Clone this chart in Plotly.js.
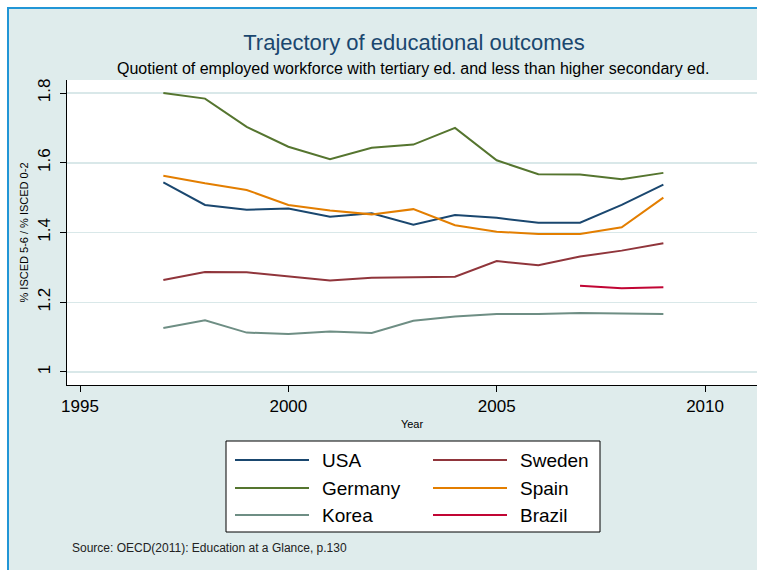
<!DOCTYPE html>
<html><head><meta charset="utf-8">
<script src="https://cdn.plot.ly/plotly-3.0.1.min.js"></script>
<style>
html,body{margin:0;padding:0;background:#fff;overflow:hidden;}
#frame{position:absolute;left:7px;top:7px;width:770px;height:600px;background:#dfecec;border-left:2px solid #2196d6;border-top:2px solid #2196d6;}
#chart{position:absolute;left:0;top:0;width:757px;height:570px;}
</style></head><body>
<div id="frame"></div><div id="chart"></div>
<script>
// ---- data ----
const years = [1997,1998,1999,2000,2001,2002,2003,2004,2005,2006,2007,2008,2009];
const brazilYears = [2007,2008,2009];
const usa     = [1.544,1.479,1.465,1.469,1.445,1.455,1.422,1.450,1.442,1.428,1.428,1.479,1.537];
const germany = [1.800,1.784,1.703,1.646,1.610,1.643,1.652,1.700,1.607,1.567,1.566,1.553,1.571];
const spain   = [1.563,1.541,1.522,1.479,1.463,1.452,1.467,1.421,1.402,1.396,1.396,1.415,1.500];
const sweden  = [1.264,1.287,1.286,1.273,1.262,1.270,1.272,1.273,1.318,1.306,1.331,1.348,1.369];
const korea   = [1.126,1.148,1.113,1.109,1.116,1.112,1.147,1.159,1.166,1.166,1.169,1.168,1.166];
const brazil  = [1.247,1.240,1.243];
const yTicks = [1, 1.2, 1.4, 1.6, 1.8];
const yTickLabels = ['1', '1.2', '1.4', '1.6', '1.8'];
const xTicks = [1995, 2000, 2005, 2010];
const seriesNames = ['USA','Sweden','Germany','Spain','Korea','Brazil'];
const seriesColors = ['#1a476f','#90353b','#55752f','#e37e00','#6e8e84','#c10534'];

// ---- layout constants ----
const W = 757, H = 570, ML = 67, MT = 80, MR = 0, MB = 185;
const PW = W - ML - MR, PH = H - MT - MB;
const px = x => (x - ML) / PW;
const py = y => (H - MB - y) / PH;
const FONT = 'Liberation Sans, Arial, sans-serif';

const seriesX = [years, years, years, years, years, brazilYears];
const seriesY = [usa, sweden, germany, spain, korea, brazil];

const traces = seriesNames.map((n, i) => ({
  x: seriesX[i], y: seriesY[i], name: n, type: 'scatter', mode: 'lines',
  line: {color: seriesColors[i], width: 2}, hoverinfo: 'x+y+name'
}));

// manual legend (Stata style, 2 columns)
const shapes = [{type:'rect', xref:'paper', yref:'paper', x0:px(226), x1:px(600), y0:py(441), y1:py(532),
  line:{color:'#000', width:1}, fillcolor:'#fff', layer:'above'}];
const annotations = [];
const colLineX = [[235,309],[433,507]], colTextX = [320, 518], rowY = [460, 488, 515];
seriesNames.forEach((n, i) => {
  const c = i % 2, r = Math.floor(i / 2);
  shapes.push({type:'line', xref:'paper', yref:'paper', x0:px(colLineX[c][0]), x1:px(colLineX[c][1]),
    y0:py(rowY[r]), y1:py(rowY[r]), line:{color:seriesColors[i], width:2}, layer:'above'});
  annotations.push({text:n, xref:'paper', yref:'paper', x:px(colTextX[c]), y:py(rowY[r]),
    xanchor:'left', yanchor:'middle', showarrow:false, font:{size:19, color:'#000', family:FONT}});
});
annotations.push({text:'Quotient of employed workforce with tertiary ed. and less than higher secondary ed.',
  xref:'paper', yref:'paper', x:px(413), y:py(68), xanchor:'center', yanchor:'middle', showarrow:false,
  font:{size:16, color:'#000', family:FONT}});
annotations.push({text:'Source: OECD(2011): Education at a Glance, p.130',
  xref:'paper', yref:'paper', x:px(70), y:py(548), xanchor:'left', yanchor:'middle', showarrow:false,
  font:{size:12, color:'#222', family:FONT}});

const layout = {
  width: W, height: H,
  margin: {l: ML, r: MR, t: MT, b: MB, pad: 0},
  paper_bgcolor: 'rgba(0,0,0,0)', plot_bgcolor: '#ffffff',
  font: {family: FONT, color: '#000'},
  showlegend: false,
  title: {text: 'Trajectory of educational outcomes', x: px(414), xref: 'paper', xanchor: 'center',
    y: 1 - 42 / H, yanchor: 'middle', font: {size: 22, color: '#1a476f'}},
  xaxis: {range: [1994.688, 2011.247], tickvals: xTicks, ticktext: xTicks.map(String),
    ticks: 'outside', ticklen: 6, tickcolor: '#000', showline: true, linecolor: '#000', linewidth: 1,
    showgrid: false, zeroline: false, tickfont: {size: 17},
    title: {text: 'Year', font: {size: 11}, standoff: 4}},
  yaxis: {range: [0.9627, 1.8373], tickvals: yTicks, ticktext: yTickLabels, tickangle: -90,
    ticks: 'outside', ticklen: 6, tickcolor: '#000', showline: true, linecolor: '#000', linewidth: 1,
    ticklabelstandoff: 3,
    showgrid: true, gridcolor: '#d9e8e9', gridwidth: 1.5, zeroline: false, tickfont: {size: 17},
    title: {text: '% ISCED 5-6 / % ISCED 0-2', font: {size: 11}, standoff: 4}},
  shapes: shapes, annotations: annotations
};
Plotly.newPlot('chart', traces, layout, {displayModeBar: false, staticPlot: true});
</script>
</body></html>
